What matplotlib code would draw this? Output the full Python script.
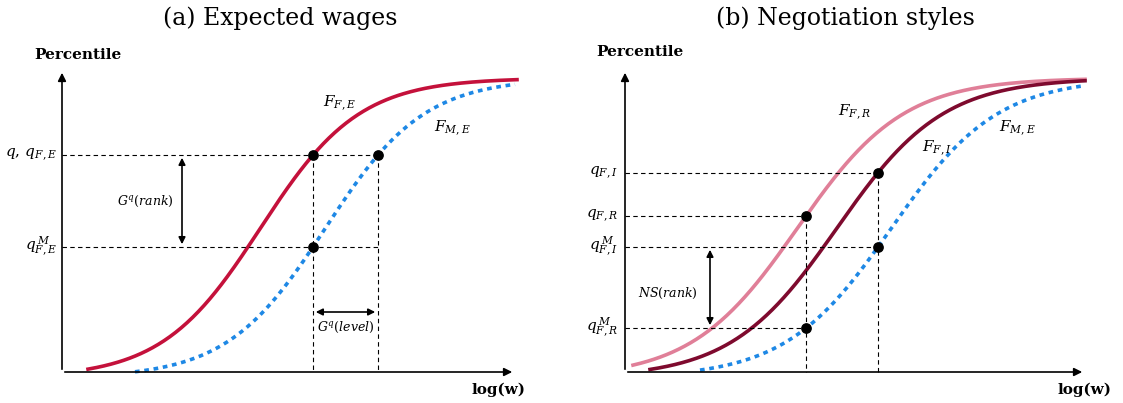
import numpy as np
import matplotlib
matplotlib.use("Agg")
import matplotlib.pyplot as plt

plt.rcParams['mathtext.fontset'] = 'dejavuserif'
plt.rcParams['font.family'] = 'DejaVu Serif'

# logistic curve parameters (pixel space): name, center, scale, x-start, x-end, color, style
low, high = 378, 78
curves_a = [("F_F,E", 260.5, 49.4, 88, 517, "#C4113B", "-"),
            ("F_M,E", 325.5, 49.4, 135, 515, "#1E88E5", ":")]
curves_b = [("F_F,R", 797.5, 53, 633, 1085, "#E07F98", "-"),
            ("F_F,I", 837.0, 53, 650, 1085, "#7E0A2E", "-"),
            ("F_M,E", 891.5, 53, 700, 1085, "#1E88E5", ":")]
dots = [(313, 155), (378, 155), (313, 247), (806, 216), (878, 173), (878, 247), (806, 328)]

def logistic(x, c, s):
    return low - (low - high) / (1 + np.exp(-(x - c) / s))

fig = plt.figure(figsize=(11.23, 4.03), dpi=100)
ax = fig.add_axes([0, 0, 1, 1])
ax.set_xlim(0, 1123); ax.set_ylim(403, 0); ax.axis('off')

for name, c, s, x0, x1, col, ls in curves_a + curves_b:
    x = np.linspace(x0, x1, 300)
    if ls == ":":
        ax.plot(x, logistic(x, c, s), color=col, lw=2.6, ls=(0, (1.3, 1.3)))
    else:
        ax.plot(x, logistic(x, c, s), color=col, lw=2.6)

arrow = dict(arrowstyle='-|>', color='black', lw=1.2, mutation_scale=12)
for ox, xe in [(62, 515), (625, 1085)]:
    ax.annotate('', xy=(ox, 70), xytext=(ox, 372), arrowprops=arrow)
    ax.annotate('', xy=(xe, 372), xytext=(ox, 372), arrowprops=arrow)

dk = dict(color='black', lw=0.8, ls=(0, (4, 3)))
for y, x0, x1 in [(155, 62, 378), (247, 62, 378), (173, 625, 878), (216, 625, 806),
                  (247, 625, 878), (328, 625, 806)]:
    ax.plot([x0, x1], [y, y], **dk)
for x, y0 in [(313, 155), (378, 155), (806, 216), (878, 173)]:
    ax.plot([x, x], [y0, 372], **dk)

ax.scatter([d[0] for d in dots], [d[1] for d in dots], s=45, color='black', zorder=5)

da = dict(arrowstyle='<|-|>', color='black', lw=1.2, mutation_scale=10)
ax.annotate('', xy=(182, 155), xytext=(182, 247), arrowprops=da)
ax.annotate('', xy=(313, 312), xytext=(378, 312), arrowprops=da)
ax.annotate('', xy=(710, 247), xytext=(710, 328), arrowprops=da)

fs = 11
ax.text(145, 201, r'$G^q(rank)$', fontsize=9, ha='center', va='center')
ax.text(346, 327, r'$G^q(level)$', fontsize=9, ha='center', va='center',
        bbox=dict(fc='white', ec='none', pad=0.5))
ax.text(668, 293, r'$NS(rank)$', fontsize=9, ha='center', va='center')

ax.text(57, 155, r'$q,\,q_{F,E}$', fontsize=fs, ha='right', va='center')
ax.text(57, 247, r'$q_{F,E}^{\,M}$', fontsize=fs, ha='right', va='center')
ax.text(618, 173, r'$q_{F,I}$', fontsize=fs, ha='right', va='center')
ax.text(618, 216, r'$q_{F,R}$', fontsize=fs, ha='right', va='center')
ax.text(618, 247, r'$q_{F,I}^{\,M}$', fontsize=fs, ha='right', va='center')
ax.text(618, 328, r'$q_{F,R}^{\,M}$', fontsize=fs, ha='right', va='center')

ax.text(340, 103, r'$F_{F,E}$', fontsize=fs, ha='center', va='center')
ax.text(452, 128, r'$F_{M,E}$', fontsize=fs, ha='center', va='center')
ax.text(855, 112, r'$F_{F,R}$', fontsize=fs, ha='center', va='center')
ax.text(937, 148, r'$F_{F,I}$', fontsize=fs, ha='center', va='center')
ax.text(1017, 128, r'$F_{M,E}$', fontsize=fs, ha='center', va='center')

for x, y, t in [(78, 55, 'Percentile'), (640, 52, 'Percentile'),
                (498, 390, 'log(w)'), (1085, 390, 'log(w)')]:
    ax.text(x, y, t, fontsize=11, fontweight='bold', ha='center', va='center')

ax.text(280, 18, '(a) Expected wages', fontsize=17, ha='center', va='center')
ax.text(845, 18, '(b) Negotiation styles', fontsize=17, ha='center', va='center')

fig.savefig('out.png', dpi=100)
